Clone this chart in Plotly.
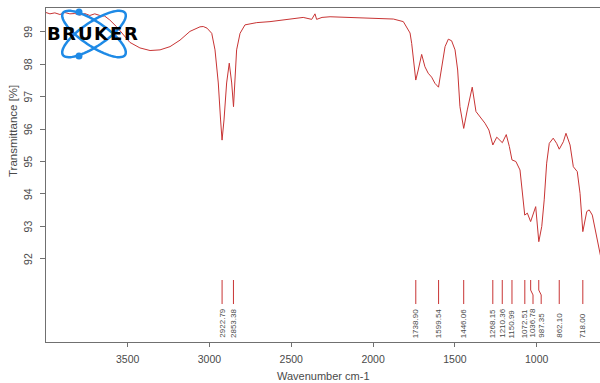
import numpy as np
import plotly.graph_objects as go

# ---- data ----
wavenumber = [3999, 3975, 3945, 3914, 3884, 3853, 3823, 3792, 3762, 3731, 3701, 3670, 3640, 3609,
              3567, 3527, 3486, 3425, 3363, 3302, 3241, 3180, 3119, 3058, 3038, 3015, 2986, 2966,
              2946, 2932, 2923, 2911, 2895, 2879, 2864, 2853, 2844, 2834, 2813, 2783, 2752, 2711,
              2630, 2508, 2427, 2375, 2355, 2345, 2312, 2263, 2141, 1978, 1876, 1815, 1795, 1774,
              1764, 1750, 1739, 1724, 1703, 1683, 1663, 1642, 1622, 1600, 1581, 1560, 1540, 1520,
              1499, 1483, 1469, 1446, 1424, 1394, 1371, 1347, 1316, 1292, 1268, 1244, 1210, 1186,
              1167, 1151, 1127, 1102, 1088, 1073, 1057, 1037, 1006, 994, 987, 969, 954, 939, 923,
              899, 878, 862, 837, 821, 796, 776, 752, 735, 725, 718, 694, 679, 660, 644, 627, 613, 600]
transmittance = [99.59, 99.55, 99.58, 99.53, 99.59, 99.55, 99.56, 99.51, 99.56, 99.50, 99.55, 99.50, 99.48, 99.36,
                 99.15, 98.90, 98.67, 98.50, 98.42, 98.44, 98.54, 98.74, 99.01, 99.15, 99.16, 99.11, 98.95, 98.44,
                 97.42, 96.28, 95.66, 96.28, 97.42, 98.03, 97.42, 96.69, 97.67, 98.44, 98.95, 99.21, 99.24, 99.28,
                 99.31, 99.38, 99.44, 99.38, 99.55, 99.38, 99.44, 99.46, 99.44, 99.41, 99.39, 99.31, 99.15, 98.96,
                 98.64, 97.92, 97.51, 97.82, 98.30, 97.92, 97.72, 97.60, 97.41, 97.29, 97.92, 98.54, 98.77, 98.72,
                 98.44, 97.82, 96.69, 96.02, 96.59, 97.29, 96.54, 96.38, 96.18, 95.97, 95.51, 95.75, 95.58, 95.83,
                 95.46, 95.05, 95.00, 94.74, 94.02, 93.35, 93.41, 93.15, 93.61, 93.05, 92.53, 93.00, 93.82, 94.95, 95.56,
                 95.72, 95.56, 95.38, 95.61, 95.87, 95.51, 94.84, 94.69, 94.02, 93.30, 92.84, 93.46, 93.51, 93.35, 92.94, 92.58, 92.17, 91.85]

peaks = [2922.79, 2853.38, 1738.90, 1599.54, 1446.06, 1268.15, 1210.36, 1150.99,
         1072.51, 1036.78, 987.35, 862.10, 718.00]

x_ticks = [3500, 3000, 2500, 2000, 1500, 1000]
y_ticks = [92, 93, 94, 95, 96, 97, 98, 99]

x_title = "Wavenumber cm-1"
y_title = "Transmittance [%]"
logo_text = "BRUKER"

# ---- styling ----
RED = "#c83434"
TXT = "#4a4a4a"
AXIS = "#707070"
BLUE = "#1e8ae6"
FONT = "Liberation Sans, Arial, sans-serif"

W, H = 600, 383
ML, MR, MT, MB = 46, 0, 8, 41
pw, ph = W - ML - MR, H - MT - MB


def px_to_paper_x(px):
    return (px - ML) / pw


def px_to_paper_y(py):
    return (MT + ph - py) / ph


fig = go.Figure()
fig.add_trace(go.Scatter(x=wavenumber, y=transmittance, mode="lines",
                         line=dict(color=RED, width=1), hoverinfo="skip", showlegend=False))

# peak marker lines with label de-overlap
line_top, kink1, kink2, line_bot = 91.35, 91.04, 90.89, 90.61
min_sep = 50.0
label_x = []
prev = None
for p in peaks:
    lx = p
    if prev is not None and prev - lx < min_sep:
        lx = prev - min_sep
    label_x.append(lx)
    prev = lx

lx_all, ly_all = [], []
for p, lx in zip(peaks, label_x):
    if abs(p - lx) < 1e-6:
        lx_all += [p, p, None]
        ly_all += [line_top, line_bot, None]
    else:
        lx_all += [p, p, lx, lx, None]
        ly_all += [line_top, kink1, kink2, line_bot, None]
fig.add_trace(go.Scatter(x=lx_all, y=ly_all, mode="lines",
                         line=dict(color=RED, width=1), hoverinfo="skip", showlegend=False))

annotations = []
for p, lx in zip(peaks, label_x):
    annotations.append(dict(x=lx, y=89.50, xref="x", yref="y", text=f"{p:.2f}",
                            showarrow=False, textangle=-90, xanchor="center", yanchor="bottom",
                            font=dict(family=FONT, size=8, color=TXT)))

# y tick labels (rotated, as in the reference)
for v in y_ticks:
    annotations.append(dict(x=px_to_paper_x(28), y=v, xref="paper", yref="y", text=str(v),
                            showarrow=False, textangle=-90, xanchor="center", yanchor="middle",
                            font=dict(family=FONT, size=10.5, color=TXT)))

# axis titles
annotations.append(dict(x=px_to_paper_x(13), y=px_to_paper_y(131), xref="paper", yref="paper",
                        text=y_title, showarrow=False, textangle=-90, borderpad=0,
                        xanchor="center", yanchor="middle",
                        font=dict(family=FONT, size=11.5, color=TXT)))
annotations.append(dict(x=0.5, y=px_to_paper_y(376), xref="paper", yref="paper",
                        text=x_title, showarrow=False, xanchor="center", yanchor="middle",
                        borderpad=0, font=dict(family=FONT, size=11, color=TXT)))

# logo
cx, cy = 94, 34
ax_p = px_to_paper_x(cx)
ay_p = px_to_paper_y(cy)
letter_px = [54, 69, 85, 101, 116, 131]
for ch, px in zip(logo_text, letter_px):
    annotations.append(dict(x=px_to_paper_x(px), y=ay_p, xref="paper", yref="paper",
                            text=f"<b>{ch}</b>", showarrow=False, xanchor="center", yanchor="middle",
                            font=dict(family="DejaVu Sans", size=18, color="black")))

shapes = []
a, b = 37.5, 12.0
phi = np.linspace(0, 2 * np.pi, 73)
for th in (np.deg2rad(34), np.deg2rad(-34)):
    ex = a * np.cos(phi) * np.cos(th) - b * np.sin(phi) * np.sin(th)
    ey = a * np.cos(phi) * np.sin(th) + b * np.sin(phi) * np.cos(th)
    path = "M " + " L ".join(f"{x:.2f},{y:.2f}" for x, y in zip(ex, ey)) + " Z"
    shapes.append(dict(type="path", path=path, xref="paper", yref="paper",
                       xsizemode="pixel", ysizemode="pixel", xanchor=ax_p, yanchor=ay_p,
                       line=dict(color=BLUE, width=2.5), layer="above"))
for dy in (22, -22):
    shapes.append(dict(type="circle", xref="paper", yref="paper",
                       xsizemode="pixel", ysizemode="pixel", xanchor=ax_p, yanchor=ay_p,
                       x0=-18.5, x1=-11.5, y0=dy - 3.5, y1=dy + 3.5,
                       fillcolor=BLUE, line=dict(color=BLUE, width=0), layer="above"))

fig.update_layout(
    width=W, height=H, margin=dict(l=ML, r=MR, t=MT, b=MB, autoexpand=False),
    paper_bgcolor="white", plot_bgcolor="white",
    annotations=annotations, shapes=shapes, showlegend=False,
    xaxis=dict(range=[3999, 613], autorange=False, tickvals=x_ticks, ticks="outside", ticklen=4,
               tickcolor=AXIS, showline=True, linecolor=AXIS, linewidth=1, mirror=True,
               showgrid=False, zeroline=False, ticklabelstandoff=3,
               tickfont=dict(family=FONT, size=10.5, color=TXT)),
    yaxis=dict(range=[89.44, 99.73], autorange=False, tickvals=y_ticks, ticks="outside", ticklen=5,
               tickcolor=AXIS, showline=True, linecolor=AXIS, linewidth=1,
               showgrid=False, zeroline=False, showticklabels=False),
)

# remove the browser's default page margin so the 600x383 figure fills the window exactly
fig.write_html("out.html",
               config={"displayModeBar": False, "staticPlot": True},
               post_script="document.body.style.margin='0';document.body.style.overflow='hidden';")
